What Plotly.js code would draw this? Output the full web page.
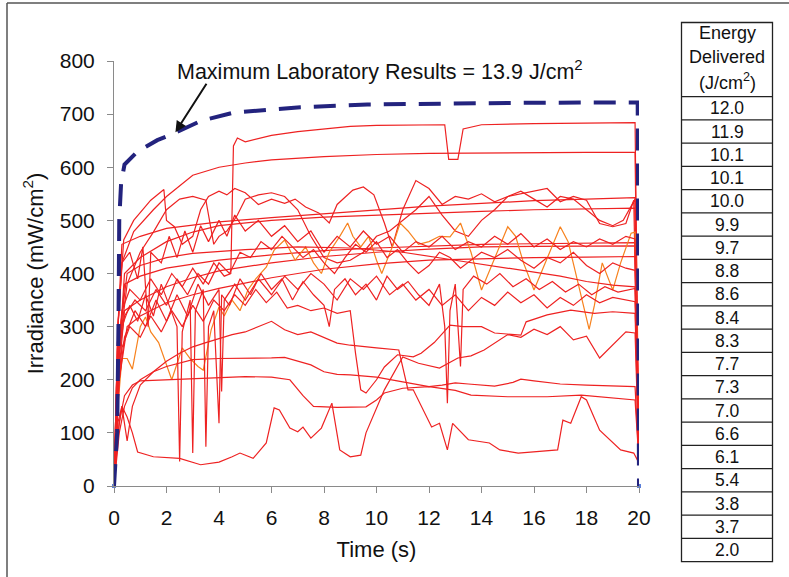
<!DOCTYPE html>
<html><head><meta charset="utf-8">
<script src="https://cdn.plot.ly/plotly-3.0.1.min.js"></script>
<style>html,body{margin:0;padding:0;background:#fff}#chart{width:789px;height:577px}</style>
</head><body><div id="chart"></div>
<script>
// ---- data: each run is [time (s), irradiance (mW/cm2)] pairs ----
const run01 = [[0,0],[0.15,250],[0.3,330],[0.6,370],[1,350],[1.4,390],[1.8,360],[2.2,400],[2.6,375],[3,410],[3.4,380],[3.8,420],[4.2,395],[4.45,400],[4.55,640],[4.7,655],[5,648],[6,660],[7,667],[8,672],[9,677],[10,679],[11,679],[12,680],[12.6,680],[12.75,615],[13.1,615],[13.3,672],[14,680],[16,682],[18,683],[19.85,684],[20,45]];
const run02 = [[0,0],[0.15,300],[0.3,420],[0.75,479],[1.5,520],[2,545],[3,585],[4,600],[5,608],[6,614],[8,620],[10,624],[12,626],[14,627],[16,628],[18,628],[19.85,628],[20,40]];
const run03 = [[0,0],[0.15,300],[0.3,455],[1,470],[2,485],[4,497],[6,505],[8,512],[10,520],[12,527],[14,532],[16,537],[18,540],[19.85,543],[20,40]];
const run04 = [[0,0],[0.15,300],[0.37,463],[0.75,500],[1.4,538],[1.9,558],[2.0,500],[2.3,488],[2.6,455],[3.0,470],[3.3,520],[3.6,545],[4.0,555],[4.3,548],[4.6,560],[5.0,552],[5.5,530],[6.0,540],[6.5,532],[6.9,540],[7.3,525],[7.8,514],[8.2,495],[8.5,530],[9.1,557],[9.5,563],[9.9,548],[10.3,495],[10.6,450],[11.0,520],[11.5,575],[12.0,560],[12.5,530],[13.0,545],[13.5,540],[14.0,550],[14.5,535],[15.0,545],[15.5,555],[16.0,540],[16.5,525],[17.0,545],[17.5,540],[18.0,520],[18.5,500],[19.0,490],[19.4,500],[19.85,540],[20,45]];
const run05 = [[0,0],[0.2,260],[0.5,380],[1,440],[1.5,478],[2,520],[2.5,540],[3,545],[3.5,538],[3.8,455],[4.0,470],[4.3,480],[4.7,510],[5,540],[5.5,548],[6,552],[6.5,545],[7,520],[7.5,470],[8,430],[8.5,420],[9,425],[9.5,440],[10,470],[10.5,480],[11,500],[11.5,520],[12,545],[12.5,510],[13,480],[13.5,470],[14,500],[14.5,520],[15,545],[15.5,550],[16,555],[16.5,560],[17,535],[17.5,545],[18,538],[18.5,494],[19,488],[19.5,494],[19.8,538],[20,45]];
const run06 = [[0,0],[0.2,250],[0.4,400],[1,430],[2,460],[3,478],[4,490],[6,500],[8,506],[10,510],[12,514],[14,517],[16,520],[18,522],[19.85,523],[20,40]];
const run07 = [[0,0],[0.2,250],[0.4,380],[1,395],[2,410],[4,425],[6,435],[8,443],[10,448],[12,452],[14,455],[16,456],[18,457],[19.85,458],[20,40]];
const run08 = [[0,0],[0.2,220],[0.4,330],[1,350],[2,375],[3,392],[4,405],[6,420],[8,432],[10,440],[12,446],[14,450],[16,451],[18,452],[19.85,452],[20,40]];
const run09 = [[0,0],[0.15,150],[0.3,240],[0.5,240],[0.7,220],[1,300],[1.2,318],[1.4,290],[1.7,270],[2,230],[2.2,200],[2.4,230],[2.6,260],[2.9,240],[3.2,225],[3.4,218],[3.7,294],[4,337],[4.2,320],[4.5,350],[4.8,330],[5.1,369],[5.4,390],[5.8,412],[6.1,444],[6.5,463],[6.9,425],[7.3,450],[7.6,420],[7.9,400],[8.2,440],[8.6,470],[8.9,495],[9.1,470],[9.4,450],[9.7,470],[10.0,425],[10.2,400],[10.6,450],[10.9,495],[11.2,480],[11.6,455],[12.0,460],[12.4,470],[12.8,469],[13.2,495],[13.6,440],[14.0,369],[14.5,430],[15.0,488],[15.3,470],[15.6,420],[16.0,369],[16.5,430],[17.0,488],[17.3,460],[17.8,356],[18.1,295],[18.3,340],[18.6,420],[19.0,369],[19.3,420],[19.7,476],[19.85,478],[20,45]];
const run10 = [[0,0],[0.2,200],[0.5,300],[1,320],[2,345],[3,360],[4,372],[6,392],[8,408],[10,418],[12,425],[14,428],[16,430],[18,431],[19.85,432],[20,40]];
const run11 = [[0,0],[0.2,280],[0.5,400],[1,415],[2,430],[3,438],[5,445],[7,450],[9,448],[11,440],[13,425],[15,410],[17,395],[18,385],[19,378],[19.85,375],[20,40]];
const run12 = [[0,0],[0.2,250],[0.4,320],[0.8,350],[1.2,330],[1.6,370],[2,340],[2.4,390],[2.8,360],[3.2,400],[3.6,380],[4,420],[4.4,400],[4.8,440],[5.2,430],[5.6,460],[6,445],[6.4,470],[6.8,450],[7.2,430],[7.6,445],[8,420],[8.4,400],[8.8,430],[9.2,455],[9.6,440],[10,460],[10.4,430],[10.8,445],[11.2,420],[11.6,400],[12,415],[12.4,440],[12.8,430],[13.2,410],[13.6,425],[14,440],[14.5,430],[15,445],[15.5,425],[16,410],[16.5,430],[17,420],[17.5,440],[18,415],[18.5,400],[19,420],[19.5,410],[19.85,406],[20,45]];
const run13 = [[0,0],[0.15,220],[0.3,300],[0.6,340],[0.9,310],[1.2,360],[1.5,320],[1.8,380],[2.1,340],[2.4,300],[2.5,46],[2.6,290],[2.9,350],[3.0,62],[3.1,330],[3.4,370],[3.5,74],[3.6,300],[3.8,330],[4.0,118],[4.1,360],[4.4,340],[4.8,390],[5.2,360],[5.6,400],[6,370],[6.4,390],[6.8,350],[7.2,385],[7.6,360],[8,340],[8.2,300],[8.4,370],[8.8,390],[9.2,360],[9.6,380],[10,350],[10.4,395],[10.8,370],[11.2,385],[11.6,360],[12,340],[12.4,380],[12.6,300],[12.7,156],[12.8,330],[13.0,380],[13.2,225],[13.3,370],[13.7,395],[14.2,380],[14.7,400],[15.2,375],[15.7,390],[16.2,370],[16.7,385],[17.2,365],[17.7,380],[18.2,360],[18.7,375],[19.2,365],[19.85,372],[20,45]];
const run14 = [[0,0],[0.15,180],[0.3,260],[0.6,300],[1,280],[1.4,320],[1.8,290],[2.2,330],[2.6,300],[3,340],[3.4,310],[3.8,350],[4.2,330],[4.6,360],[5,340],[5.4,370],[5.8,345],[6.2,365],[6.6,335],[7,340],[7.5,330],[8,335],[8.5,325],[9,330],[9.2,250],[9.4,181],[9.6,175],[10,200],[10.3,224],[10.8,247],[11.4,243],[11.7,250],[12.2,270],[12.8,303],[13.3,300],[14,300],[14.5,288],[15.5,284],[15.7,309],[16.5,322],[17.4,331],[18.3,325],[19,328],[19.85,325],[20,45]];
const run15 = [[0,0],[0.2,200],[0.4,280],[0.8,330],[1.2,300],[1.6,350],[2,310],[2.4,360],[2.8,320],[3.2,380],[3.6,340],[4,370],[4.1,178],[4.2,350],[4.6,380],[5,350],[5.5,390],[6,360],[6.5,395],[7,370],[7.5,400],[8,380],[8.5,350],[9,390],[9.5,370],[10,395],[10.5,360],[11,380],[11.5,350],[12,370],[12.5,340],[13,360],[13.5,330],[14,355],[14.5,340],[15,365],[15.5,345],[16,360],[16.5,335],[17,355],[17.5,340],[18,360],[18.5,345],[19,355],[19.85,347],[20,45]];
const run16 = [[0,0],[0.15,300],[0.3,420],[0.6,440],[0.9,390],[1.1,450],[1.3,300],[1.4,440],[1.8,420],[2.1,470],[2.4,430],[2.7,480],[3.0,440],[3.3,490],[3.6,460],[4,500],[4.3,470],[4.6,510],[5,480],[5.5,500],[6,470],[6.5,490],[7,460],[7.5,480],[8,440],[8.5,470],[9,450],[9.5,480],[10,455],[10.5,470],[11,440],[11.5,460],[12,450],[12.5,470],[13,445],[13.5,460],[14,450],[14.5,470],[15,455],[15.5,475],[16,450],[16.5,465],[17,445],[17.5,460],[18,450],[18.5,465],[19,455],[19.5,470],[19.85,465],[20,45]];
const run17 = [[0,0],[0.15,100],[0.3,150],[0.5,130],[0.7,100],[0.9,64],[1.5,55],[2.5,52],[3.3,40],[4.0,45],[4.5,55],[4.8,62],[5.3,52],[5.8,81],[6.1,147],[6.3,143],[6.7,109],[7,102],[7.2,111],[7.5,90],[7.9,109],[8.3,156],[8.6,68],[9,55],[9.4,58],[9.6,100],[10.3,181],[11,243],[11.6,231],[12.4,222],[13.1,241],[13.6,245],[14.1,256],[15,285],[15.5,280],[16,295],[16.5,285],[17,300],[17.5,275],[18,282],[18.5,241],[19,265],[19.5,290],[19.85,288],[20,45]];
const run18 = [[0,0],[0.15,120],[0.3,150],[0.5,85],[0.7,150],[1,190],[1.5,215],[2,235],[2.5,250],[3,262],[3.5,270],[4,278],[4.5,285],[5,290],[5.5,300],[6,310],[6.5,294],[7,285],[7.5,290],[8,280],[8.5,269],[9,265],[9.5,262],[10,260],[10.85,256],[11.2,181],[11.4,181],[12.1,111],[12.4,118],[12.7,68],[12.9,118],[13.5,87],[14.3,81],[14.7,68],[15.4,62],[16.9,68],[17.1,124],[17.4,118],[17.8,168],[18,162],[18.5,105],[19.3,68],[19.8,62],[20,43]];
const run19 = [[0,0],[0.2,100],[0.4,150],[0.7,185],[1,200],[1.5,215],[2,225],[3,238],[4,240],[5,240],[6,241],[6.5,242],[7,235],[7.5,228],[8,215],[8.5,210],[9,209],[10,205],[11,196],[12,187],[12.5,190],[13,194],[13.5,192],[14.5,188],[15.2,195],[15.5,201],[16,198],[17,192],[18,190],[19,188],[19.85,187],[20,45]];
const run20 = [[0,0],[0.2,120],[0.4,170],[0.7,190],[1,198],[2,200],[3,202],[4,204],[5,206],[6,205],[6.7,200],[7.2,170],[7.6,150],[8.5,148],[9.6,149],[10.0,162],[10.3,175],[11,184],[12,187],[13,180],[13.6,171],[15,168],[16.5,168],[17.8,171],[19,165],[19.85,162],[20,45]];
const maxLab = [[0,0],[0.12,100],[0.17,300],[0.2,500],[0.27,570],[0.4,605],[0.9,630],[1.65,651],[2.3,664],[3.3,687],[4.56,703],[7.1,713],[9.65,718],[12,720],[15,721],[18,722],[19.95,722],[20,0]];
const blueMarksX = [0, 20];
const blueMarksY = [0, 0];
const energyLabels = ['12.0','11.9','10.1','10.1','10.0','9.9','9.7','8.8','8.6','8.4','8.3','7.7','7.3','7.0','6.6','6.1','5.4','3.8','3.7','2.0'];
const headerLines = ['Energy', 'Delivered', '(J/cm<sup>2</sup>)'];
const runs = [run01,run02,run03,run04,run05,run06,run07,run08,run09,run10,run11,run12,run13,run14,run15,run16,run17,run18,run19,run20];
const orangeRun = 8;

// ---- geometry helpers (pixel -> paper) ----
const W = 789, H = 577, ML = 114, MR = 150, MT = 61, MB = 91;
const PW = W - ML - MR, PH = H - MT - MB;
const px = x => (x - ML) / PW;
const py = y => (H - MB - y) / PH;
const FONT = 'Liberation Sans, Arial, sans-serif';

const traces = runs.map((r, i) => ({
  type: 'scatter', mode: 'lines',
  x: r.map(p => p[0]), y: r.map(p => p[1]),
  line: {color: i === orangeRun ? '#F7821E' : '#EE2222', width: 1.2},
  hoverinfo: 'skip', showlegend: false
}));
traces.push({
  type: 'scatter', mode: 'markers', x: blueMarksX, y: blueMarksY,
  marker: {symbol: 'square', size: 4, color: '#5B7FD8'}, showlegend: false, cliponaxis: false
});
traces.push({
  type: 'scatter', mode: 'lines',
  x: maxLab.map(p => p[0]), y: maxLab.map(p => p[1]),
  line: {color: '#23237E', width: 4, dash: '22px,13px'},
  showlegend: false
});

// table shapes
const tL = 681.5, tR = 772.5, tT = 22.5, hB = 96.7, rowH = 23.25, tC = (tL + tR) / 2;
const shapes = [
  {type: 'line', xref: 'paper', yref: 'paper', x0: px(7), x1: px(7), y0: py(3), y1: py(580), line: {color: '#555', width: 1.5}},
  {type: 'line', xref: 'paper', yref: 'paper', x0: px(7), x1: px(789), y0: py(3), y1: py(3), line: {color: '#555', width: 1.5}},
  {type: 'rect', xref: 'paper', yref: 'paper', x0: px(tL), x1: px(tR), y0: py(tT), y1: py(hB + rowH * 20), line: {color: '#222', width: 1.3}}
];
for (let i = 0; i < 20; i++) {
  const y = hB + rowH * i;
  shapes.push({type: 'line', xref: 'paper', yref: 'paper', x0: px(tL), x1: px(tR), y0: py(y), y1: py(y), line: {color: '#222', width: 1.3}});
}
const annotations = [
  {xref: 'paper', yref: 'paper', x: px(380), y: py(70), text: 'Maximum Laboratory Results = 13.9 J/cm<sup>2</sup>', showarrow: false, font: {family: FONT, size: 21.5, color: '#111'}, xanchor: 'center', yanchor: 'middle'},
  {x: 2.34, y: 666, xref: 'x', yref: 'y', text: '', showarrow: true, ax: 32, ay: -50, arrowhead: 2, arrowsize: 1.1, arrowwidth: 2, arrowcolor: '#111'}
];
const headerY = [33, 57, 81];
headerLines.forEach((t, i) => {
  annotations.push({xref: 'paper', yref: 'paper', x: px(tC), y: py(headerY[i]), text: t, showarrow: false, font: {family: FONT, size: 18, color: '#111'}, xanchor: 'center', yanchor: 'middle'});
});
energyLabels.forEach((t, i) => {
  annotations.push({xref: 'paper', yref: 'paper', x: px(tC), y: py(hB + rowH * (i + 0.5)), text: t, showarrow: false, font: {family: FONT, size: 17.5, color: '#111'}, xanchor: 'center', yanchor: 'middle'});
});

const layout = {
  width: W, height: H,
  margin: {l: ML, r: MR, t: MT, b: MB, pad: 0},
  paper_bgcolor: '#fff', plot_bgcolor: '#fff',
  font: {family: FONT, color: '#111'},
  xaxis: {
    range: [0, 20], tickvals: [0,2,4,6,8,10,12,14,16,18,20], showgrid: false, zeroline: false,
    showline: true, linecolor: '#8A8A8A', linewidth: 1, ticks: 'outside', ticklen: 6, tickcolor: '#8A8A8A',
    tickfont: {size: 21}, ticklabelstandoff: 7,
    title: {text: 'Time (s)', font: {size: 22}, standoff: 13}
  },
  yaxis: {
    range: [0, 800], tickvals: [0,100,200,300,400,500,600,700,800], showgrid: false, zeroline: false,
    showline: true, linecolor: '#8A8A8A', linewidth: 1, ticks: 'outside', ticklen: 6, tickcolor: '#8A8A8A',
    tickfont: {size: 21}, ticklabelstandoff: 8,
    title: {text: 'Irradiance (mW/cm<sup>2</sup>)', font: {size: 22}, standoff: 10}
  },
  shapes: shapes, annotations: annotations
};
Plotly.newPlot('chart', traces, layout, {staticPlot: true, displayModeBar: false});
</script></body></html>
